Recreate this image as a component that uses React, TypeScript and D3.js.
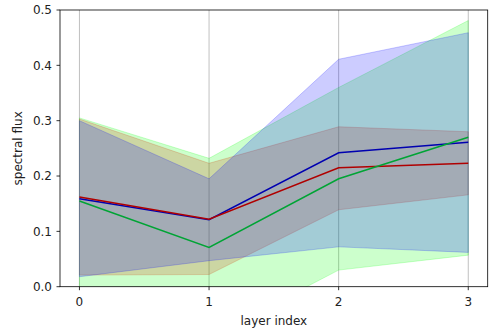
import React from 'react'
import * as d3 from 'd3'

const layers = [0, 1, 2, 3]
const yTicks = [0.0, 0.1, 0.2, 0.3, 0.4, 0.5]

const redMean = [0.162, 0.122, 0.215, 0.223]
const redUpper = [0.303, 0.223, 0.289, 0.28]
const redLower = [0.021, 0.022, 0.139, 0.166]

const blueMean = [0.159, 0.121, 0.242, 0.261]
const blueUpper = [0.3, 0.195, 0.411, 0.459]
const blueLower = [0.018, 0.047, 0.072, 0.062]

const greenMean = [0.155, 0.071, 0.195, 0.27]
const greenUpper = [0.305, 0.232, 0.36, 0.481]
const greenLower = [-0.005, -0.092, 0.03, 0.057]

const W = 496
const H = 331
const margin = { top: 10, right: 8.3, bottom: 44.3, left: 60 }

// drawing order of the bands: red, green, blue
const series = [
  { name: 'red', mean: redMean, upper: redUpper, lower: redLower, fill: '#ff0000', line: '#b00000' },
  { name: 'green', mean: greenMean, upper: greenUpper, lower: greenLower, fill: '#00ff00', line: '#00a435' },
  { name: 'blue', mean: blueMean, upper: blueUpper, lower: blueLower, fill: '#0000ff', line: '#0000b0' },
]

export default function App() {
  const x = d3.scaleLinear().domain([-0.15, 3.15]).range([margin.left, W - margin.right])
  const y = d3.scaleLinear().domain([0, 0.5]).range([H - margin.bottom, margin.top])

  const area = d3.area<number>()
    .x((_, i) => x(layers[i]))
  const line = d3.line<number>()
    .x((_, i) => x(layers[i]))
    .y(d => y(d))

  const font = 'DejaVu Sans, sans-serif'
  const x0 = margin.left
  const x1 = W - margin.right
  const yb = H - margin.bottom
  const yt = margin.top
  const fs = 12

  return (
    <svg width={W} height={H} style={{ position: 'absolute', left: 0, top: 0, background: '#fff' }}
      fontFamily={font}>
      <defs>
        <clipPath id="plot">
          <rect x={x0} y={yt} width={x1 - x0} height={yb - yt} />
        </clipPath>
      </defs>

      {/* grid */}
      {layers.map(t => (
        <line key={'g' + t} x1={x(t)} x2={x(t)} y1={yt} y2={yb} stroke="#b0b0b0" strokeWidth={0.8} />
      ))}

      <g clipPath="url(#plot)">
        {series.map(s => (
          <path key={'a' + s.name}
            d={area.y0((_, i) => y(s.lower[i])).y1((_, i) => y(s.upper[i]))(s.mean) || ''}
            fill={s.fill} fillOpacity={0.2} stroke={s.fill} strokeOpacity={0.2} strokeWidth={1} />
        ))}
        {[series[2], series[0], series[1]].map(s => (
          <path key={'l' + s.name} d={line(s.mean) || ''} fill="none" stroke={s.line} strokeWidth={1.5} />
        ))}
      </g>

      {/* spines */}
      <rect x={x0} y={yt} width={x1 - x0} height={yb - yt} fill="none" stroke="#000" strokeWidth={0.8} />

      {/* y axis */}
      {yTicks.map(t => (
        <g key={'y' + t}>
          <line x1={x0 - 3.5} x2={x0} y1={y(t)} y2={y(t)} stroke="#000" strokeWidth={0.8} />
          <text x={x0 - 8} y={y(t)} dy="0.36em" textAnchor="end" fontSize={fs} fill="#222">
            {d3.format('.1f')(t)}
          </text>
        </g>
      ))}

      {/* x axis */}
      {layers.map(t => (
        <g key={'x' + t}>
          <line x1={x(t)} x2={x(t)} y1={yb} y2={yb + 3.5} stroke="#000" strokeWidth={0.8} />
          <text x={x(t)} y={yb + 15} dy="0.36em" textAnchor="middle" fontSize={fs} fill="#222">
            {t}
          </text>
        </g>
      ))}

      <text x={(x0 + x1) / 2} y={321} dy="0.36em" textAnchor="middle" fontSize={fs} fill="#222">
        layer index
      </text>
      <text transform={`translate(17.5,${(yt + yb) / 2}) rotate(-90)`} dy="0.36em" textAnchor="middle"
        fontSize={fs} fill="#222">
        spectral flux
      </text>
    </svg>
  )
}
